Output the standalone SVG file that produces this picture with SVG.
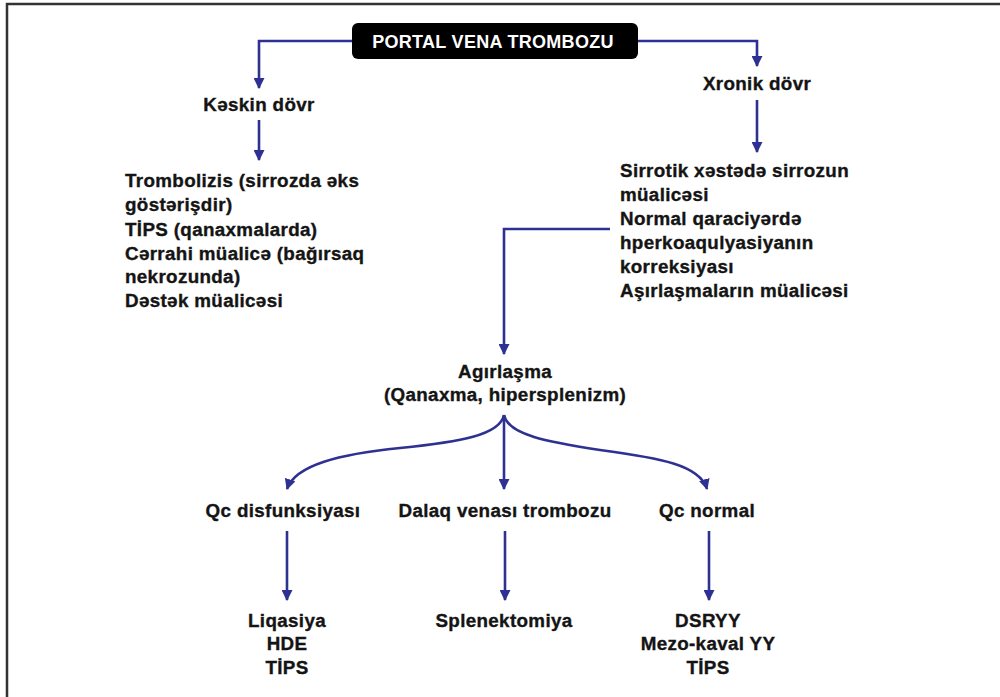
<svg xmlns="http://www.w3.org/2000/svg" width="1000" height="697" viewBox="0 0 1000 697">
<style>
  .t { font-family: "Liberation Sans", Arial, Helvetica, sans-serif; font-weight: bold; font-size: 18.8px; fill: #141414; stroke: #141414; stroke-width: 0.35px; letter-spacing: 0.35px; }
  .c { text-anchor: middle; }
  .title { font-family: "Liberation Sans", Arial, Helvetica, sans-serif; font-weight: bold; font-size: 18px; fill: #ffffff; text-anchor: middle; letter-spacing: 0.3px; }
  .ln { fill: none; stroke: #2e3192; stroke-width: 2.6; marker-end: url(#ah); }
</style>
<defs>
  <marker id="ah" viewBox="0 0 10 10" refX="9" refY="5" markerWidth="11" markerHeight="11" markerUnits="userSpaceOnUse" orient="auto">
    <path d="M0,0 L10,5 L0,10 z" fill="#2e3192"/>
  </marker>
</defs>
<rect width="1000" height="697" fill="#ffffff"/>
<polyline points="7,697 7,4 1000,4" fill="none" stroke="#333333" stroke-width="2.5"/>

<g id="connectors">
  <path class="ln" d="M352,41 H259 V88"/>
  <path class="ln" d="M638,41 H757 V66"/>
  <path class="ln" d="M259,120 V160"/>
  <path class="ln" d="M757,100 V152"/>
  <path class="ln" d="M610,229 H504 V354"/>
  <path class="ln" d="M504,415 C500,435 460,442 400,448 C340,454 295,465 287,489"/>
  <path class="ln" d="M504,415 V489"/>
  <path class="ln" d="M504,415 C508,435 548,442 600,450 C660,458 700,465 707,489"/>
  <path class="ln" d="M287,531 V600"/>
  <path class="ln" d="M505,531 V600"/>
  <path class="ln" d="M709,531 V600"/>
</g>

<g id="title">
  <rect x="352" y="23" width="286" height="36" rx="6" fill="#000000"/>
  <text class="title" x="493" y="48">PORTAL VENA TROMBOZU</text>
</g>

<g id="keskin">
  <text class="t c" x="259" y="111">Kəskin dövr</text>
</g>
<g id="xronik">
  <text class="t c" x="757" y="90">Xronik dövr</text>
</g>

<g id="keskin-list">
  <text class="t" x="125" y="187">Trombolizis (sirrozda əks</text>
  <text class="t" x="125" y="211">göstərişdir)</text>
  <text class="t" x="125" y="236">TİPS (qanaxmalarda)</text>
  <text class="t" x="125" y="260">Cərrahi müalicə (bağırsaq</text>
  <text class="t" x="125" y="283">nekrozunda)</text>
  <text class="t" x="125" y="307">Dəstək müalicəsi</text>
</g>

<g id="xronik-list">
  <text class="t" x="620" y="177">Sirrotik xəstədə sirrozun</text>
  <text class="t" x="620" y="201">müalicəsi</text>
  <text class="t" x="620" y="225">Normal qaraciyərdə</text>
  <text class="t" x="620" y="249">hperkoaqulyasiyanın</text>
  <text class="t" x="620" y="273">korreksiyası</text>
  <text class="t" x="620" y="297">Aşırlaşmaların müalicəsi</text>
</g>

<g id="agirlasma">
  <text class="t c" x="505" y="378">Agırlaşma</text>
  <text class="t c" x="505" y="401">(Qanaxma, hipersplenizm)</text>
</g>

<g id="qc-disf">
  <text class="t c" x="283" y="517">Qc disfunksiyası</text>
</g>
<g id="dalaq">
  <text class="t c" x="505" y="517">Dalaq venası trombozu</text>
</g>
<g id="qc-normal">
  <text class="t c" x="707" y="517">Qc normal</text>
</g>

<g id="res-left">
  <text class="t c" x="287" y="627">Liqasiya</text>
  <text class="t c" x="287" y="650">HDE</text>
  <text class="t c" x="287" y="674">TİPS</text>
</g>
<g id="res-mid">
  <text class="t c" x="504" y="627">Splenektomiya</text>
</g>
<g id="res-right">
  <text class="t c" x="708" y="627">DSRYY</text>
  <text class="t c" x="708" y="650">Mezo-kaval YY</text>
  <text class="t c" x="708" y="674">TİPS</text>
</g>
</svg>
